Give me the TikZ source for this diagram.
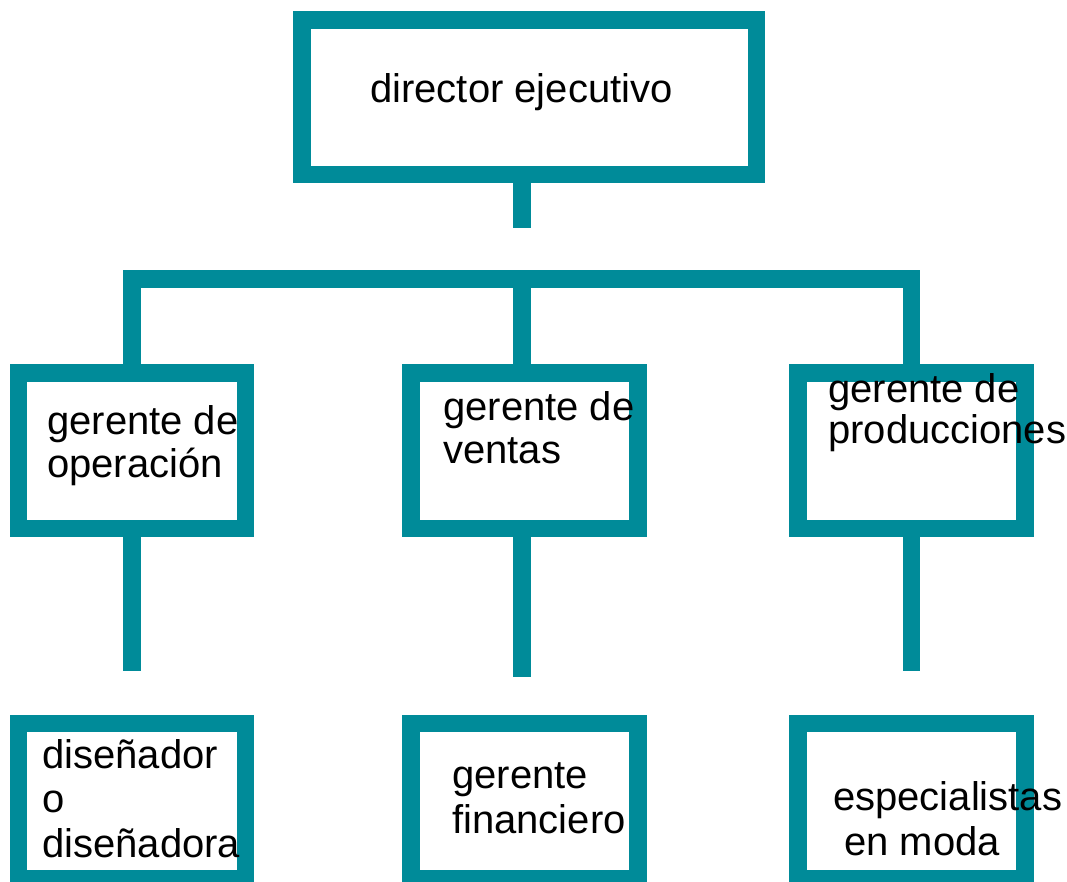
\documentclass[tikz,border=0pt]{standalone}
\usepackage{fontspec}
\setmainfont{Liberation Sans}
\usepackage{tikz}
\definecolor{orgteal}{RGB}{0,139,153}

\begin{document}
\begin{tikzpicture}[x=1pt,y=-1pt,
  post/.style={draw=orgteal,line width=17.5pt,rectangle,inner sep=0pt,minimum width=227pt,minimum height=155.5pt},
  link/.style={draw=orgteal,line width=17.5pt},
  txt/.style={anchor=base west,inner sep=0pt,align=left,font=\fontsize{40}{43}\selectfont},
  txtlow/.style={txt,font=\fontsize{40}{44.5}\selectfont}]
  \clip (0,0) rectangle (1067,881);
  \node[post,minimum width=454.5pt,minimum height=154.5pt] (dir) at (529,97) {};
  \node[post] (ope) at (131.75,450.5) {};
  \node[post] (ven) at (524.5,450.5) {};
  \node[post] (pro) at (911.5,450.5) {};
  \node[post] (dis) at (131.75,801) {};
  \node[post] (fin) at (524.5,801) {};
  \node[post] (esp) at (911.5,801) {};

  \coordinate (bus) at (521.75,279);
  \coordinate (dirEnd) at (521.75,228);
  \coordinate (opeEnd) at (131.75,671);
  \coordinate (venEnd) at (521.75,677);
  \coordinate (proEnd) at (911.5,671);
  \draw[link] (dir.south -| bus) -- (dirEnd);
  \draw[link] (ope.north) -- (ope.north |- bus) -- (pro.north |- bus) -- (pro.north);
  \draw[link] (bus) -- (ven.north -| bus);
  \draw[link] (ope.south) -- (opeEnd);
  \draw[link] (ven.south -| bus) -- (venEnd);
  \draw[link] (pro.south) -- (proEnd);

  \node[txt] (dirT) at (370,102) {director ejecutivo};
  \node[txt] (opeT) at (47,477) {gerente de\\operación};
  \node[txt] (venT) at (443,463) {gerente de\\ventas};
  \node[txt,font=\fontsize{40}{41}\selectfont] (proT) at (828,443) {gerente de\\producciones};
  \node[txtlow] (disT) at (42,857) {diseñador\\o\\diseñadora};
  \node[txtlow] (finT) at (452,833) {gerente\\financiero};
  \node[txtlow] (espT) at (833,855) {especialistas\\\hspace*{11pt}en moda};
\end{tikzpicture}
\end{document}
